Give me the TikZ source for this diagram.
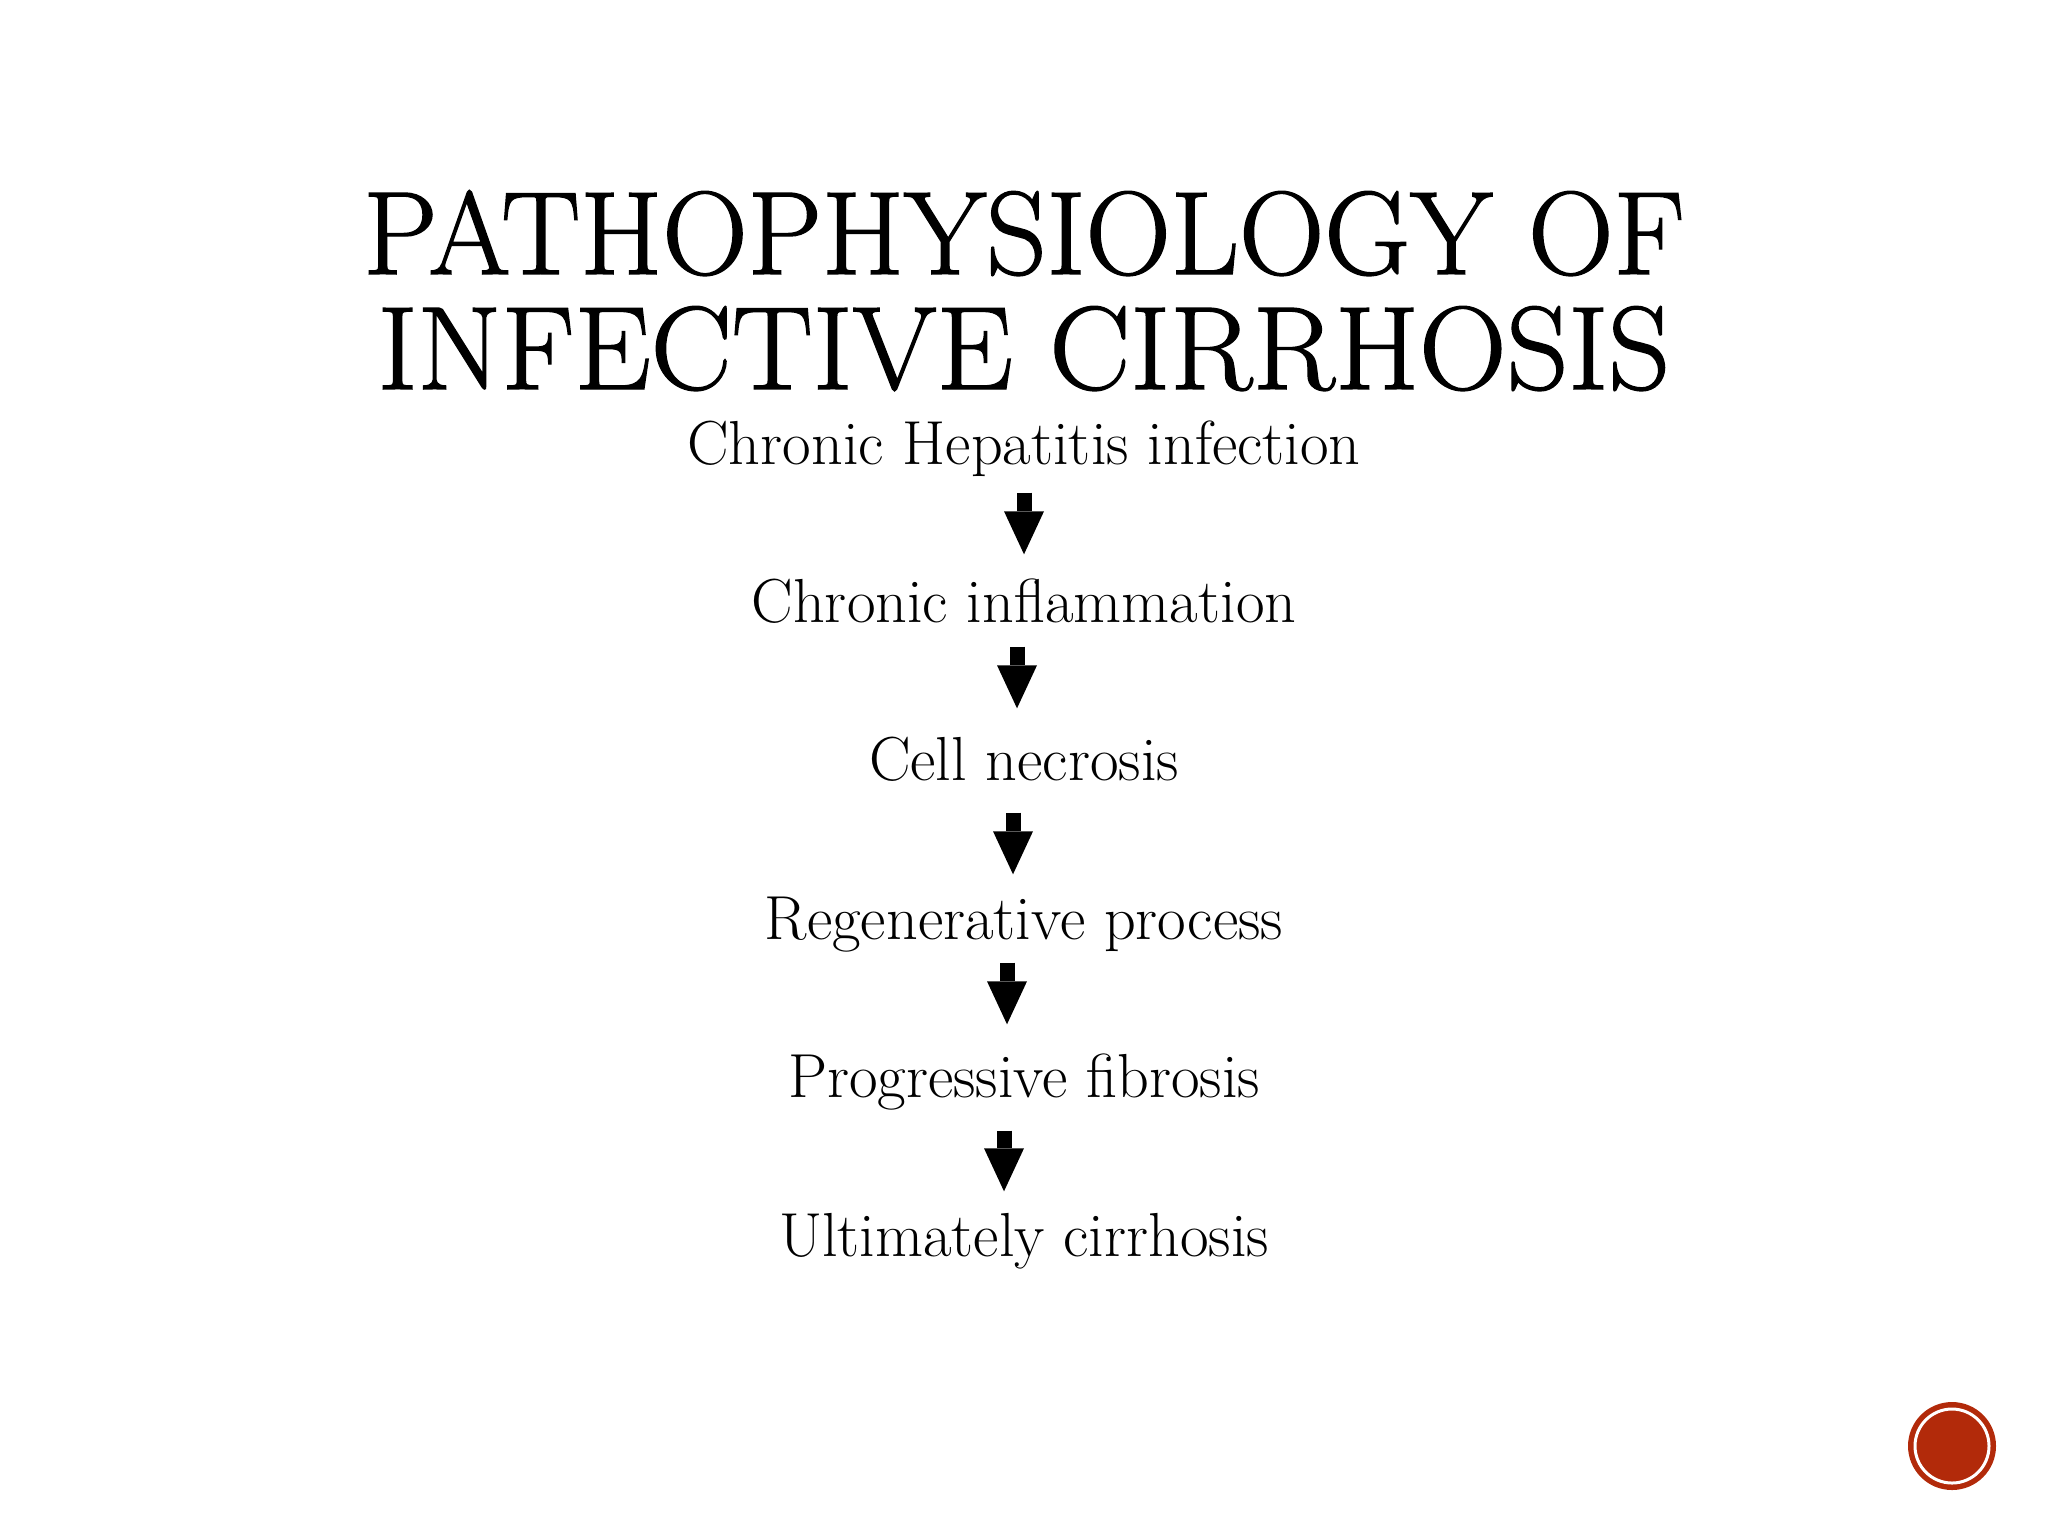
\documentclass[tikz,border=0pt]{standalone}
\usepackage{graphicx}
\usepackage{fontspec}
\newfontfamily\headfont{lmroman17-regular.otf}[FakeBold=1.2]
\usetikzlibrary{arrows.meta}
\definecolor{slidered}{RGB}{178,42,10}

\begin{document}
\begin{tikzpicture}[x=0.1mm,y=-0.1mm,
  stage/.style={inner sep=0pt, anchor=base, font=\fontsize{17.7}{20}\selectfont,
    text height=11.5pt, text depth=3.3pt},
  heading/.style={inner sep=0pt, anchor=base, font=\headfont\fontsize{33.7}{36}\selectfont},
  blockarrow/.style={line width=1.5mm, -{Triangle[length=4.3mm,width=4mm,line width=0pt]}}]
\useasboundingbox (0,0) rectangle (2048,1536);

% title
\node[heading] (title1) at (1024,274) {\scalebox{1.0}[1]{PATHOPHYSIOLOGY OF}};
\node[heading] (title2) at (1024,389) {\scalebox{1.024}[1]{INFECTIVE CIRRHOSIS}};

% stages
\node[stage] (hep)   at (1024,464)  {Chronic Hepatitis infection};
\node[stage] (infl)  at (1024,622)  {Chronic inflammation};
\node[stage] (necr)  at (1024,780)  {Cell necrosis};
\node[stage] (regen) at (1024,939)  {Regenerative process};
\node[stage] (fibr)  at (1024,1097) {Progressive fibrosis};
\node[stage] (cirr)  at (1024,1256) {Ultimately cirrhosis};

\foreach \from/\to/\dx/\s/\e in {hep/infl/0/16.4/26.6, infl/necr/-7/12.4/30.6,
    necr/regen/-11/20.4/23.6, regen/fibr/-17/11.4/31.6, fibr/cirr/-20/21.4/23.6}
  \draw[blockarrow, shorten <=\s*0.1mm, shorten >=\e*0.1mm]
    ([xshift=\dx*0.1mm]\from.south) -- ([xshift=\dx*0.1mm]\to.north);

% slide badge
\fill[slidered] (1952,1446) circle (4.4mm);
\draw[white, line width=0.3mm] (1952,1446) circle (3.7mm);
\end{tikzpicture}
\end{document}
